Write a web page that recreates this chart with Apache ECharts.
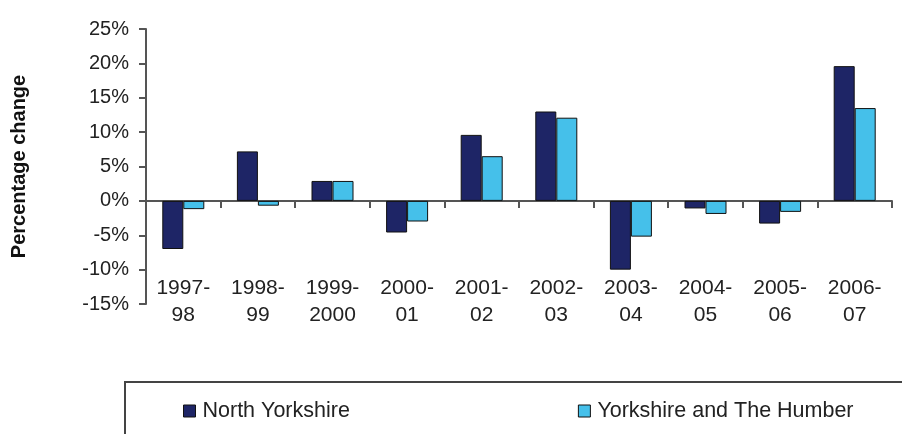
<!DOCTYPE html>
<html>
<head>
<meta charset="utf-8">
<script src="https://cdn.jsdelivr.net/npm/echarts@6/dist/echarts.min.js"></script>
<style>
  html, body { margin: 0; padding: 0; background: #fff; }
  #chart { width: 902px; height: 434px; }
</style>
</head>
<body>
<div id="chart"></div>
<script>
// Annual percentage change, North Yorkshire vs the region
const categories = ['1997-\n98', '1998-\n99', '1999-\n2000', '2000-\n01', '2001-\n02',
                    '2002-\n03', '2003-\n04', '2004-\n05', '2005-\n06', '2006-\n07'];
const northYorkshire = [-7.0, 7.2, 2.9, -4.6, 9.6, 13.0, -10.0, -1.1, -3.3, 19.6];
const yorkshireHumber = [-1.2, -0.7, 2.9, -3.0, 6.5, 12.1, -5.2, -1.9, -1.6, 13.5];
const seriesNames = ['North Yorkshire', 'Yorkshire and The Humber'];
const yMin = -15, yMax = 25, yStep = 5;

const textColor = '#222';
const axisColor = '#555';
const font = 'Arial, "Liberation Sans", sans-serif';

const chart = echarts.init(document.getElementById('chart'), null, { renderer: 'canvas' });
chart.setOption({
  animation: false,
  backgroundColor: '#fff',
  grid: { left: 146, right: 10, top: 29, bottom: 130, containLabel: false },
  legend: {
    data: seriesNames,
    left: 125, top: 382,
    width: 1200,
    padding: [18, 120, 40, 58],
    itemGap: 228,
    itemWidth: 12, itemHeight: 12,
    icon: 'rect',
    borderColor: '#444', borderWidth: 2,
    itemStyle: { borderColor: '#111', borderWidth: 1 },
    textStyle: { color: textColor, fontSize: 21.5, fontFamily: font, padding: [0, 0, 0, 2] }
  },
  xAxis: [
    {
      // line through zero with boundary ticks pointing down
      type: 'category', data: categories, position: 'top',
      axisLine: { onZero: true, lineStyle: { color: axisColor, width: 2 } },
      axisTick: { show: true, inside: true, length: 7, lineStyle: { color: axisColor, width: 2 } },
      axisLabel: { show: false },
      splitLine: { show: false }
    },
    {
      // category labels low in the plot area
      type: 'category', data: categories, position: 'bottom',
      axisLine: { show: false }, axisTick: { show: false },
      axisLabel: {
        margin: -29, color: textColor, fontSize: 21, fontFamily: font, lineHeight: 27,
        interval: 0
      }
    }
  ],
  yAxis: {
    type: 'value', min: yMin, max: yMax, interval: yStep,
    name: 'Percentage change', nameLocation: 'middle', nameGap: 117, nameRotate: 90,
    nameTextStyle: { color: '#111', fontSize: 20, fontWeight: 'bold', fontFamily: font },
    axisLine: { show: true, lineStyle: { color: axisColor, width: 2 } },
    axisTick: { show: true, length: 7, lineStyle: { color: axisColor, width: 2 } },
    axisLabel: { formatter: '{value}%', color: textColor, fontSize: 20, fontFamily: font, margin: 17 },
    splitLine: { show: false }
  },
  series: [
    {
      name: seriesNames[0], type: 'bar', data: northYorkshire,
      barWidth: 21, barGap: '0%',
      itemStyle: { color: '#1e2566', borderColor: '#111', borderWidth: 1 }
    },
    {
      name: seriesNames[1], type: 'bar', data: yorkshireHumber,
      barWidth: 21, barGap: '0%',
      itemStyle: { color: '#45c0ea', borderColor: '#111', borderWidth: 1 }
    }
  ]
});
</script>
</body>
</html>
